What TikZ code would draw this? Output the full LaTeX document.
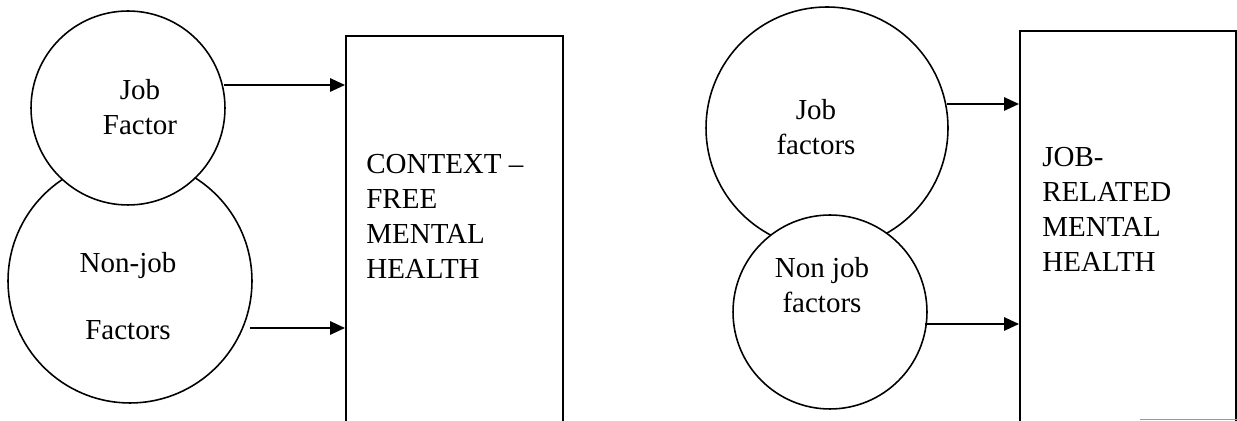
\documentclass[tikz,border=0pt]{standalone}
\usepackage{fontspec}
\setmainfont{Liberation Serif}
\usetikzlibrary{arrows.meta,calc}
\tikzset{
  factor/.style={circle,draw,line width=0.9pt,fill=white,inner sep=0pt},
  outcome/.style={rectangle,draw,line width=0.9pt,inner sep=0pt,anchor=north west},
  lbl/.style={align=center,inner sep=0pt,font=\fontsize{16.5}{20}\selectfont},
  boxtxt/.style={align=left,inner sep=0pt,anchor=north west,font=\fontsize{16.5}{20}\selectfont}
}

\begin{document}
\begin{tikzpicture}[x=0.02cm,y=-0.02cm,>={Triangle[length=3mm,width=2.7mm]}]
\useasboundingbox (0,0) rectangle (1237,421);
\clip (0,0) rectangle (1237,421);
% left model: context-free mental health
\node[factor,minimum size=4.88cm] (nonjobL) at (130,281) {};
\node[factor,minimum size=3.88cm] (jobL) at (128,108) {};
\node[lbl] (jobLt) at (140,107) {Job\\Factor};
\node[lbl] (nonjobLt) at (128,296) {Non-job\\[18pt]Factors};
\node[outcome,minimum width=4.34cm,minimum height=8.1cm] (ctxBox) at (345,35) {};
\node[boxtxt] (ctxBoxt) at (366,154) {CONTEXT --\\FREE\\MENTAL\\HEALTH};
\coordinate (jobLout) at (224,85);
\coordinate (nonjobLout) at (250,328);
\draw[->,line width=0.9pt] (jobLout) -- (jobLout -| ctxBox.west);
\draw[->,line width=0.9pt] (nonjobLout) -- (nonjobLout -| ctxBox.west);
% right model: job-related mental health
\node[factor,minimum size=4.84cm] (jobR) at (827,128) {};
\node[factor,minimum size=3.88cm] (nonjobR) at (830,312) {};
\node[lbl] (jobRt) at (816,127) {Job\\factors};
\node[lbl] (nonjobRt) at (822,285) {Non job\\factors};
\node[outcome,minimum width=4.32cm,minimum height=8.2cm] (jobBox) at (1019,30) {};
\node[boxtxt] (jobBoxt) at (1042,147) {JOB-\\RELATED\\MENTAL\\HEALTH};
\coordinate (jobRout) at (947,104);
\coordinate (nonjobRout) at (925,324);
\draw[->,line width=0.9pt] (jobRout) -- (jobRout -| jobBox.west);
\draw[->,line width=0.9pt] (nonjobRout) -- (nonjobRout -| jobBox.west);
\draw[black!40,line width=0.8pt] (1140,419.5) -- (1237,419.5);
\end{tikzpicture}
\end{document}
